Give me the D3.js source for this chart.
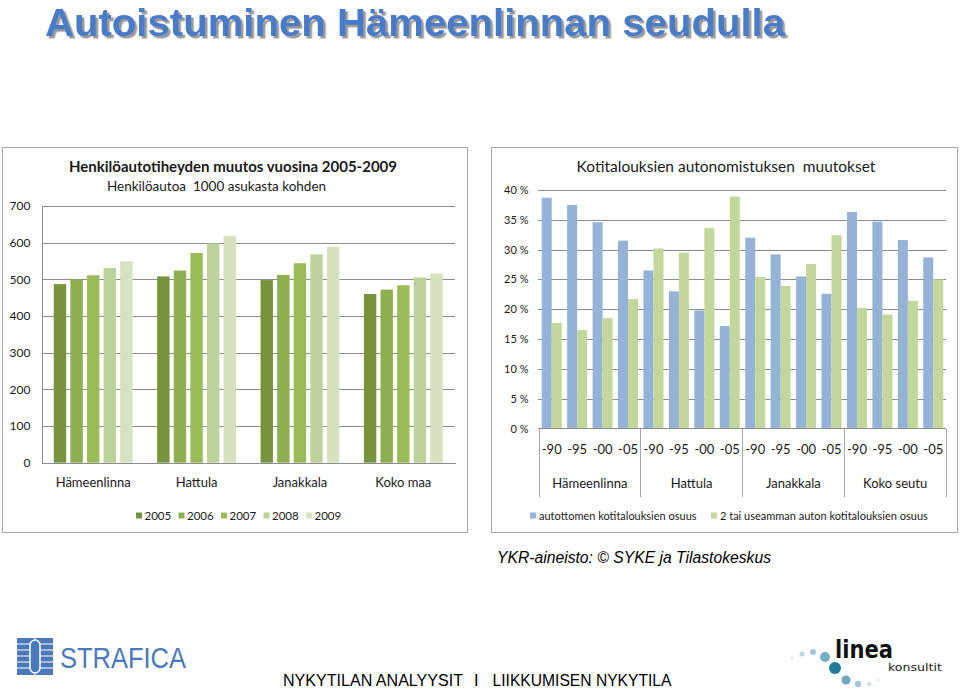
<!DOCTYPE html>
<html>
<head>
<meta charset="utf-8">
<script src="https://cdn.jsdelivr.net/npm/d3@7"></script>
<style>
  html, body { margin: 0; padding: 0; background: #fff; }
  svg { display: block; }
  text { font-family: Lato, "Open Sans", sans-serif; fill: #1a1a1a; }
</style>
</head>
<body>
<svg id="chart" width="960" height="691"></svg>
<script>
// ---------- data: left chart ----------
const leftCategories = ["Hämeenlinna", "Hattula", "Janakkala", "Koko maa"];
const leftYears = ["2005", "2006", "2007", "2008", "2009"];
const cars2005 = [487, 508, 498, 460];
const cars2006 = [500, 524, 512, 472];
const cars2007 = [511, 572, 544, 484];
const cars2008 = [531, 598, 568, 505];
const cars2009 = [549, 618, 589, 516];
const leftTicks = [0, 100, 200, 300, 400, 500, 600, 700];

// ---------- data: right chart ----------
const rightGroups = ["Hämeenlinna", "Hattula", "Janakkala", "Koko seutu"];
const rightPeriods = ["-90", "-95", "-00", "-05"];
const carlessShare = [38.7, 37.5, 34.6, 31.5, 26.5, 23.0, 19.8, 17.2, 32.0, 29.2, 25.5, 22.6, 36.3, 34.7, 31.6, 28.7];
const multiCarShare = [17.7, 16.5, 18.5, 21.7, 30.2, 29.5, 33.6, 38.9, 25.4, 23.9, 27.6, 32.4, 20.2, 19.1, 21.4, 25.0];
const rightSeries = ["autottomen kotitalouksien osuus", "2 tai useamman auton kotitalouksien osuus"];
const rightTicks = [0, 5, 10, 15, 20, 25, 30, 35, 40];

const leftColors = ["#77933c", "#8eae50", "#9bbb59", "#bdd29a", "#d5e1bf"];
const rightColors = ["#95b3d7", "#c3d69b"];

const svg = d3.select("#chart");
const defs = svg.append("defs");
const f = defs.append("filter").attr("id", "shadow").attr("x", "-5%").attr("y", "-20%").attr("width", "110%").attr("height", "150%");
f.append("feDropShadow").attr("dx", 2.5).attr("dy", 2.5).attr("stdDeviation", 0.6)
  .attr("flood-color", "#9a9a9a").attr("flood-opacity", 1);

// ---------- page title ----------
svg.append("text").attr("x", 45).attr("y", 35.5)
  .style("font-family", "'Liberation Sans', Arial, sans-serif").style("font-weight", "bold")
  .style("font-size", "39px").style("fill", "#4a7cc8").attr("filter", "url(#shadow)")
  .attr("textLength", 740).attr("lengthAdjust", "spacingAndGlyphs").text("Autoistuminen Hämeenlinnan seudulla");

// ---------- panel frames ----------
svg.append("rect").attr("x", 2.5).attr("y", 147.5).attr("width", 465).attr("height", 385)
  .attr("fill", "#fff").attr("stroke", "#a6a6a6");
svg.append("rect").attr("x", 491.5).attr("y", 147.5).attr("width", 466).attr("height", 385)
  .attr("fill", "#fff").attr("stroke", "#a6a6a6");

// =============== LEFT CHART ===============
const L = { x0: 41.5, x1: 455, y0: 462.7, y1: 206 };
const yL = d3.scaleLinear().domain([0, 700]).range([L.y0, L.y1]);
const xL = d3.scaleBand().domain(leftCategories).range([L.x0, L.x1]);
const xLi = d3.scaleBand().domain(leftYears).range([0, xL.bandwidth()]).paddingInner(0.253).paddingOuter(0.74);

const gL = svg.append("g");
gL.append("g").attr("transform", `translate(${L.x0},0)`)
  .call(d3.axisLeft(yL).tickValues(leftTicks.filter(d => d > 0)).tickSize(-(L.x1 - L.x0)).tickFormat(""))
  .call(g => g.select(".domain").remove())
  .call(g => g.selectAll("line").attr("stroke", "#8c8c8c").attr("shape-rendering", "crispEdges"));
const leftData = [cars2005, cars2006, cars2007, cars2008, cars2009];
leftYears.forEach((yr, yi) => {
  gL.append("g").selectAll("rect").data(leftCategories).join("rect")
    .attr("x", c => xL(c) + xLi(yr))
    .attr("width", xLi.bandwidth())
    .attr("y", (c, i) => yL(leftData[yi][i]))
    .attr("height", (c, i) => yL(0) - yL(leftData[yi][i]))
    .attr("fill", leftColors[yi]);
});
gL.append("g").attr("transform", `translate(${L.x0},0)`)
  .call(d3.axisLeft(yL).tickValues(leftTicks).tickSize(0).tickPadding(11))
  .call(g => g.select(".domain").attr("stroke", "#8c8c8c").attr("shape-rendering", "crispEdges"))
  .call(g => g.selectAll("text").style("font-family", "Lato, sans-serif").style("font-size", "12px").attr("fill", "#1a1a1a"));
gL.append("g").attr("transform", `translate(0,${L.y0})`)
  .call(d3.axisBottom(xL).tickSize(0).tickPadding(15))
  .call(g => g.select(".domain").attr("stroke", "#8c8c8c").attr("shape-rendering", "crispEdges"))
  .call(g => g.selectAll("text").style("font-family", "Lato, sans-serif").style("font-size", "13px").attr("fill", "#1a1a1a"));
gL.append("text").attr("x", 233).attr("y", 171.5).attr("text-anchor", "middle")
  .style("font-weight", "bold").style("font-size", "15px").text("Henkilöautotiheyden muutos vuosina 2005-2009");
gL.append("text").attr("x", 216.5).attr("y", 191).attr("text-anchor", "middle")
  .style("font-size", "13.5px").style("white-space", "pre").text("Henkilöautoa  1000 asukasta kohden");
const legL = gL.append("g").selectAll("g").data(leftYears).join("g")
  .attr("transform", (d, i) => `translate(${136 + i * 42.5},515.5)`);
legL.append("rect").attr("x", 0).attr("y", -3).attr("width", 6).attr("height", 6)
  .attr("fill", (d, i) => leftColors[i]);
legL.append("text").attr("x", 8.5).attr("y", 4.2).style("font-size", "11.5px").text(d => d);

// =============== RIGHT CHART ===============
const R = { x0: 539, x1: 946, y0: 428.5, y1: 190 };
const yR = d3.scaleLinear().domain([0, 40]).range([R.y0, R.y1]);
const subKeys = rightGroups.flatMap(g => rightPeriods.map(p => g + "|" + p));
const xR = d3.scaleBand().domain(subKeys).range([R.x0, R.x1]);
const xRg = d3.scaleBand().domain(rightGroups).range([R.x0, R.x1]);
const xRi = d3.scaleBand().domain(rightSeries).range([0, xR.bandwidth()]).paddingOuter(0.27);

const gR = svg.append("g");
gR.append("g").attr("transform", `translate(${R.x0 - 1.5},0)`)
  .call(d3.axisLeft(yR).tickValues(rightTicks.filter(d => d > 0)).tickSize(-(R.x1 - R.x0 + 1.5)).tickFormat(""))
  .call(g => g.select(".domain").remove())
  .call(g => g.selectAll("line").attr("stroke", "#8c8c8c").attr("shape-rendering", "crispEdges"));
const rightData = [carlessShare, multiCarShare];
rightSeries.forEach((s, si) => {
  gR.append("g").selectAll("rect").data(subKeys).join("rect")
    .attr("x", k => xR(k) + xRi(s))
    .attr("width", xRi.bandwidth())
    .attr("y", (k, i) => yR(rightData[si][i]))
    .attr("height", (k, i) => yR(0) - yR(rightData[si][i]))
    .attr("fill", rightColors[si]);
});
gR.append("g").attr("transform", `translate(${R.x0 - 1.5},0)`)
  .call(d3.axisLeft(yR).tickValues(rightTicks).tickSize(0).tickPadding(9).tickFormat(d => d + " %"))
  .call(g => g.select(".domain").remove())
  .call(g => g.selectAll("text").style("font-family", "Lato, sans-serif").style("font-size", "11px").attr("fill", "#1a1a1a"));
gR.append("g").attr("transform", `translate(0,${R.y0})`)
  .call(d3.axisBottom(xR).tickSize(0).tickPadding(16).tickFormat(k => k.split("|")[1]))
  .call(g => g.select(".domain").remove())
  .call(g => g.selectAll("text").style("font-family", "Lato, sans-serif").style("font-size", "13px").attr("fill", "#1a1a1a"));
gR.append("g").attr("transform", `translate(0,${R.y0})`)
  .call(d3.axisBottom(xRg).tickSize(0).tickPadding(50))
  .call(g => g.select(".domain").remove())
  .call(g => g.selectAll("text").style("font-family", "Lato, sans-serif").style("font-size", "13px").attr("fill", "#1a1a1a"));
gR.append("line").attr("x1", R.x0 - 1.5).attr("x2", R.x1).attr("y1", R.y0).attr("y2", R.y0)
  .attr("stroke", "#8c8c8c").attr("shape-rendering", "crispEdges");
const bounds = rightGroups.map(g => xRg(g)).concat([R.x1]);
gR.append("g").selectAll("line").data(bounds).join("line")
  .attr("x1", d => d).attr("x2", d => d).attr("y1", R.y0).attr("y2", 497)
  .attr("stroke", "#a6a6a6").attr("shape-rendering", "crispEdges");
gR.append("text").attr("x", 726).attr("y", 171.5).attr("text-anchor", "middle")
  .style("font-size", "15.5px").style("white-space", "pre").text("Kotitalouksien autonomistuksen  muutokset");
const legPos = [530, 711];
const legR = gR.append("g").selectAll("g").data(rightSeries).join("g")
  .attr("transform", (d, i) => `translate(${legPos[i]},515.5)`);
legR.append("rect").attr("x", 0).attr("y", -3).attr("width", 6).attr("height", 6)
  .attr("fill", (d, i) => rightColors[i]);
legR.append("text").attr("x", 9).attr("y", 4).style("font-size", "11px").text(d => d);

// ---------- source ----------
svg.append("text").attr("x", 497).attr("y", 562.5)
  .style("font-family", "'Liberation Sans', Arial, sans-serif").style("font-style", "italic")
  .style("font-size", "16px").style("fill", "#000")
  .attr("textLength", 274).attr("lengthAdjust", "spacingAndGlyphs")
  .text("YKR-aineisto: © SYKE ja Tilastokeskus");

// ---------- footer ----------
const footerFont = "'Liberation Sans', Arial, sans-serif";
svg.append("text").attr("x", 283).attr("y", 686).style("font-family", footerFont).style("font-size", "16.5px").style("fill", "#000")
  .attr("textLength", 180).attr("lengthAdjust", "spacingAndGlyphs").text("NYKYTILAN ANALYYSIT");
svg.append("text").attr("x", 474).attr("y", 686).style("font-family", footerFont).style("font-size", "16.5px").style("fill", "#000").text("I");
svg.append("text").attr("x", 492.5).attr("y", 686).style("font-family", footerFont).style("font-size", "16.5px").style("fill", "#000")
  .attr("textLength", 179).attr("lengthAdjust", "spacingAndGlyphs").text("LIIKKUMISEN NYKYTILA");

// ---------- STRAFICA logo ----------
const sl = svg.append("g").attr("transform", "translate(17,638)");
sl.append("rect").attr("width", 36).attr("height", 37).attr("fill", "#4a7ab9");
[6, 12, 18, 24, 30].forEach(y => sl.append("line").attr("x1", 0).attr("x2", 36).attr("y1", y).attr("y2", y)
  .attr("stroke", "#fff").attr("stroke-width", 1.2));
sl.append("rect").attr("x", 13).attr("y", 2).attr("width", 10).attr("height", 33).attr("rx", 5)
  .attr("fill", "#4a7ab9").attr("stroke", "#fff").attr("stroke-width", 1.5);
sl.append("line").attr("x1", 18).attr("x2", 18).attr("y1", 0).attr("y2", 2).attr("stroke", "#fff");
sl.append("line").attr("x1", 18).attr("x2", 18).attr("y1", 35).attr("y2", 37).attr("stroke", "#fff");
svg.append("text").attr("x", 60).attr("y", 668).style("font-family", "'Liberation Sans', Arial, sans-serif")
  .style("font-size", "30px").style("fill", "#4a7ab9").attr("textLength", 126).attr("lengthAdjust", "spacingAndGlyphs")
  .text("STRAFICA");

// ---------- linea logo ----------
const dots = [[792, 658, 1.5, "#d6e7ee"], [802, 654, 2.5, "#b9d6e2"], [813, 652, 3, "#a3c8d8"], [825, 657, 5, "#74adc4"],
  [835, 668, 6, "#237a98"], [846, 680, 4.5, "#6fa8c0"], [858, 684, 3.2, "#a3c8d8"], [869, 684, 2, "#c5dde7"], [878, 680, 1.5, "#dbe9ef"]];
svg.append("g").selectAll("circle").data(dots).join("circle")
  .attr("cx", d => d[0]).attr("cy", d => d[1]).attr("r", d => d[2]).attr("fill", d => d[3]);
svg.append("text").attr("x", 835).attr("y", 658).style("font-family", "'DejaVu Sans', sans-serif").style("font-weight", "bold")
  .style("font-size", "25px").style("fill", "#111").attr("textLength", 58).attr("lengthAdjust", "spacingAndGlyphs").text("linea");
svg.append("text").attr("x", 888).attr("y", 671).style("font-family", "'DejaVu Sans', sans-serif")
  .style("font-size", "11px").style("fill", "#222").attr("textLength", 54).attr("lengthAdjust", "spacingAndGlyphs").text("konsultit");
</script>
</body>
</html>
